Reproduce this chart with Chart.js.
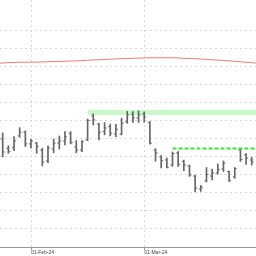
<!DOCTYPE html>
<html>
<head>
<meta charset="utf-8">
<script src="https://cdn.jsdelivr.net/npm/chart.js@4.4.1/dist/chart.umd.min.js"></script>
<style>
  html, body { margin: 0; padding: 0; background: #fff; }
  #wrap { width: 256px; height: 256px; }
</style>
</head>
<body>
<div id="wrap"><canvas id="c"></canvas></div>
<script>
// trading days shown (first and last only carry the trend curve)
const dates = [
  '24-Jan-24','25-Jan-24','26-Jan-24','29-Jan-24','30-Jan-24','31-Jan-24',
  '01-Feb-24','02-Feb-24','05-Feb-24','06-Feb-24','07-Feb-24','08-Feb-24','09-Feb-24',
  '12-Feb-24','13-Feb-24','14-Feb-24','15-Feb-24','16-Feb-24','20-Feb-24','21-Feb-24',
  '22-Feb-24','23-Feb-24','26-Feb-24','27-Feb-24','28-Feb-24','29-Feb-24',
  '01-Mar-24','04-Mar-24','05-Mar-24','06-Mar-24','07-Mar-24','08-Mar-24','11-Mar-24',
  '12-Mar-24','13-Mar-24','14-Mar-24','15-Mar-24','18-Mar-24','19-Mar-24','20-Mar-24',
  '21-Mar-24','22-Mar-24','25-Mar-24','26-Mar-24','27-Mar-24','28-Mar-24','01-Apr-24'
];
const opens = [null,
  59.8, 54.7, 55.0, 61.5, 63.7, 57.1, 57.6, 53.7, 47.7, 54.3, 57.6, 58.7, 63.0, 55.4, 53.7,
  59.3, 72.6, 68.1, 63.9, 66.7, 62.6, 62.4, 69.4, 73.5, 71.5, 73.7, 69.0, 53.7, 49.9, 48.2,
  45.4, 52.1, 47.5, 44.9, 39.3, 32.1, 36.6, 39.3, 41.0, 43.2, 41.8, 38.8, 53.7, 51.1, 48.2, null];
const highs = [null,
  63.2, 56.1, 61.1, 66.1, 64.3, 59.7, 58.0, 54.7, 56.0, 59.8, 61.5, 63.9, 63.9, 58.9, 58.9,
  70.8, 73.7, 68.5, 68.9, 68.1, 68.0, 71.3, 75.1, 75.0, 75.4, 74.8, 69.4, 54.5, 50.7, 49.3,
  52.6, 52.9, 48.2, 45.4, 39.9, 34.1, 44.0, 43.2, 46.0, 47.7, 42.1, 44.0, 54.6, 51.8, 49.6, null];
const lows = [null,
  49.9, 51.9, 53.4, 60.8, 55.6, 54.7, 51.9, 44.9, 46.7, 52.2, 54.3, 56.5, 57.1, 52.2, 52.8,
  58.9, 67.6, 59.3, 62.1, 61.5, 61.1, 62.1, 68.5, 69.0, 69.0, 69.1, 56.9, 47.5, 43.8, 43.8,
  44.7, 44.6, 42.3, 39.1, 30.5, 30.8, 36.0, 37.1, 40.4, 41.8, 36.3, 38.0, 47.4, 45.7, 45.4, null];
const closes = [null,
  52.6, 52.8, 58.7, 63.6, 57.1, 58.7, 55.6, 47.1, 54.9, 57.5, 58.7, 61.1, 57.8, 53.7, 58.3,
  70.1, 70.4, 63.6, 65.9, 63.0, 65.2, 68.5, 73.1, 71.5, 73.1, 72.0, 57.5, 52.1, 47.8, 44.2,
  51.8, 45.6, 45.4, 39.9, 32.7, 33.1, 40.1, 41.0, 42.8, 46.5, 36.7, 43.4, 48.4, 49.3, 47.1, null];
// long smoothed trend
const trend = [
  101.8, 101.9, 102.1, 102.2, 102.3, 102.3, 102.4, 102.4, 102.5, 102.6, 102.7, 102.8,
  102.9, 103.0, 103.1, 103.2, 103.4, 103.6, 103.7, 103.8, 104.0, 104.2, 104.3, 104.4,
  104.5, 104.6, 104.7, 104.8, 104.8, 104.8, 104.8, 104.8, 104.7, 104.5, 104.4, 104.3,
  104.1, 103.9, 103.7, 103.5, 103.3, 103.1, 102.8, 102.6, 102.3, 102.1, 101.7];
// resistance zone and level
const zoneFrom = '15-Feb-24';
const zoneTop = 75.9, zoneBottom = 73.1;
const levelFrom = '08-Mar-24';
const level = 54.5;

const X_MIN = 0.523, X_MAX = 45.75, Y_MAX = 136.8;
const BAR = '#666666';
const GRID = '#d9d9d9';

const last = dates.length - 1;
const ohlcIdx = dates.map((d, i) => i).filter(i => highs[i] != null);
const hlData = ohlcIdx.map(i => ({ x: i, y: [lows[i], highs[i]] }));
const openData = ohlcIdx.map(i => ({ x: i - 0.18, y: opens[i] }));
const closeData = ohlcIdx.map(i => ({ x: i + 0.18, y: closes[i] }));
const trendData = trend.map((v, i) => ({ x: i, y: v }));
const zs = dates.indexOf(zoneFrom), ls = dates.indexOf(levelFrom);
const zoneTopData = [{ x: zs, y: zoneTop }, { x: last, y: zoneTop }];
const zoneBotData = [{ x: zs, y: zoneBottom }, { x: last, y: zoneBottom }];
const levelData = [{ x: ls, y: level }, { x: last, y: level }];
const monthTicks = dates.map((d, i) => d.startsWith('01-') ? i : -1)
  .filter(i => i >= X_MIN && i <= X_MAX);

new Chart(document.getElementById('c'), {
  type: 'bar',
  data: {
    datasets: [
      { type: 'line', data: zoneTopData, borderWidth: 0, pointRadius: 0, fill: false, order: 10 },
      { type: 'line', data: zoneBotData, borderWidth: 0, pointRadius: 0, fill: '-1',
        backgroundColor: '#c8f9c8', order: 10 },
      { type: 'line', data: trendData, borderColor: '#f07575', borderWidth: 1,
        pointRadius: 0, tension: 0.4, order: 6 },
      { type: 'bar', data: hlData, backgroundColor: BAR, barThickness: 1, grouped: false, order: 3 },
      { type: 'line', data: openData, showLine: false, pointStyle: 'line', pointRadius: 1,
        borderColor: BAR, borderWidth: 1, order: 2 },
      { type: 'line', data: closeData, showLine: false, pointStyle: 'line', pointRadius: 1,
        borderColor: BAR, borderWidth: 1, order: 2 },
      { type: 'line', data: levelData, borderColor: '#3ee03e', borderWidth: 2,
        borderDash: [4, 2], pointRadius: 0, order: 1 }
    ]
  },
  options: {
    responsive: true,
    maintainAspectRatio: false,
    animation: false,
    layout: { padding: 0, autoPadding: false },
    plugins: { legend: { display: false }, tooltip: { enabled: false } },
    scales: {
      x: {
        type: 'linear', min: X_MIN, max: X_MAX, offset: false,
        afterBuildTicks: s => { s.ticks = monthTicks.map(v => ({ value: v })); },
        afterFit: s => { s.height = 9; s.paddingLeft = 0; s.paddingRight = 0; },
        ticks: {
          autoSkip: false, maxRotation: 0, align: 'start', padding: 0, color: '#444',
          font: { family: 'Liberation Sans', size: 5 },
          callback: v => dates[v]
        },
        grid: { color: GRID, offset: false, tickLength: 3, tickColor: '#999' },
        border: { color: '#999', dash: [2, 3] }
      },
      y: {
        min: 0, max: Y_MAX,
        afterBuildTicks: s => {
          s.ticks = s.ticks.filter(t => Math.abs(t.value / 10 - Math.round(t.value / 10)) < 1e-6);
        },
        afterFit: s => { s.width = 0; s.paddingTop = 0; s.paddingBottom = 0; },
        ticks: { display: false, stepSize: 10 },
        grid: { color: GRID, drawTicks: false },
        border: { display: false, dash: [2, 3] }
      }
    }
  }
});
</script>
</body>
</html>
